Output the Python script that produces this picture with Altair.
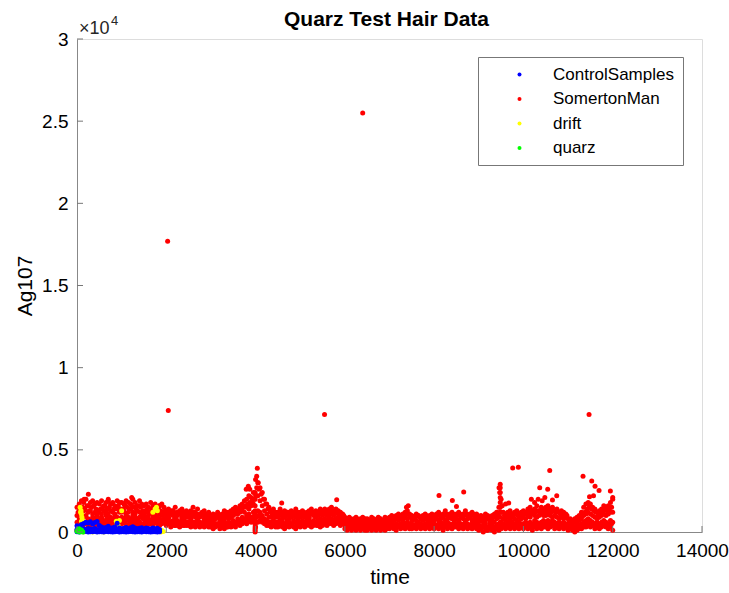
import altair as alt
import pandas as pd

# ---------------- data ----------------
series_names = ["ControlSamples", "SomertonMan", "drift", "quarz"]
series_colors = ["#0000ff", "#ff0000", "#ffff00", "#00ff00"]

# SomertonMan: sampling grid every 50 time units, readings (in hundreds) per column
red_times = list(range(0, 12001, 50))
red_a = [
    1, 3, 4, 2, 5, 3, 4, 6, 3, 5,
    5, 4, 6, 5, 7, 4, 6, 5, 7, 6,
    5, 6, 4, 7, 5, 6, 5, 4, 6, 5,
    5, 4, 6, 5, 4, 6, 5, 4, 5, 6,
    4, 5, 3, 5, 4, 4, 3, 5, 4, 4,
    4, 3, 4, 3, 5, 3, 4, 3, 4, 3,
    3, 2, 3, 4, 2, 3, 2, 3, 4, 3,
    4, 3, 5, 4, 5, 6, 5, 7, 6, 8,
    3, 6, 7, 6, 5, 4, 4, 3, 4, 3,
    3, 4, 3, 2, 4, 3, 4, 3, 2, 4,
    3, 4, 3, 5, 4, 3, 4, 5, 4, 3,
    4, 5, 4, 6, 5, 4, 5, 6, 4, 5,
    2, 1, 2, 1, 2, 1, 2, 1, 2, 1,
    1, 2, 1, 2, 1, 2, 1, 2, 1, 2,
    2, 3, 2, 1, 3, 2, 3, 2, 3, 2,
    2, 3, 2, 3, 2, 3, 2, 3, 2, 3,
    2, 3, 2, 3, 1, 3, 2, 3, 2, 3,
    3, 2, 3, 2, 3, 2, 3, 2, 3, 2,
    1, 2, 0, 2, 1, 2, 1, 0, 2, 1,
    2, 3, 2, 3, 2, 3, 2, 3, 2, 3,
    2, 3, 2, 3, 1, 3, 2, 3, 2, 3,
    3, 2, 3, 4, 2, 3, 2, 3, 2, 3,
    1, 2, 1, 0, 1, 2, 2, 3, 3, 4,
    3, 4, 2, 3, 2, 3, 4, 3, 2, 3,
    1]
red_b = [
    6, 8, 7, 9, 6, 8, 7, 9, 8, 6,
    8, 9, 7, 10, 8, 9, 8, 10, 9, 8,
    9, 8, 10, 9, 8, 10, 9, 8, 9, 10,
    8, 9, 8, 7, 9, 8, 9, 8, 7, 8,
    7, 8, 6, 7, 8, 7, 6, 8, 7, 6,
    6, 7, 6, 5, 7, 6, 5, 6, 7, 6,
    5, 6, 5, 4, 6, 5, 6, 5, 6, 5,
    7, 6, 8, 7, 9, 8, 10, 11, 9, 12,
    12, 13, 12, 10, 8, 7, 6, 6, 7, 6,
    6, 7, 6, 5, 7, 6, 5, 7, 6, 5,
    6, 7, 6, 7, 8, 6, 7, 6, 7, 8,
    7, 8, 7, 9, 8, 7, 8, 9, 8, 7,
    4, 3, 4, 3, 4, 3, 4, 3, 4, 3,
    3, 4, 3, 4, 3, 4, 3, 4, 3, 4,
    4, 5, 4, 5, 4, 5, 6, 5, 6, 5,
    5, 4, 5, 4, 5, 4, 5, 4, 5, 4,
    5, 4, 5, 6, 4, 5, 6, 5, 4, 5,
    5, 6, 5, 4, 6, 5, 4, 5, 6, 5,
    4, 3, 4, 5, 3, 4, 5, 3, 4, 5,
    6, 5, 4, 6, 5, 6, 5, 4, 6, 5,
    5, 6, 5, 6, 5, 7, 6, 5, 6, 7,
    6, 7, 6, 7, 6, 5, 6, 5, 6, 5,
    3, 4, 3, 3, 4, 4, 5, 6, 7, 8,
    7, 6, 5, 6, 5, 6, 7, 6, 5, 7,
    6]
red_c = [
    10, 12, 11, 13, 10, 12, 13, 11, 12, 10,
    12, 11, 13, 12, 11, 13, 12, 11, 14, 12,
    12, 13, 11, 12, 14, 12, 11, 13, 12, 11,
    11, 12, 10, 12, 11, 10, 12, 11, 10, 11,
    10, 9, 11, 10, 9, 10, 11, 9, 10, 9,
    9, 8, 10, 9, 8, 9, 10, 8, 9, 8,
    8, 7, 8, 9, 7, 8, 7, 9, 8, 9,
    10, 11, 11, 12, 13, 12, 15, 14, 16, 17,
    22, 22, 19, 16, 13, 11, 9, 9, 10, 9,
    9, 10, 8, 9, 10, 8, 9, 10, 9, 8,
    9, 10, 9, 10, 9, 11, 10, 9, 10, 11,
    10, 11, 10, 12, 11, 10, 12, 11, 10, 9,
    6, 5, 6, 5, 6, 5, 6, 5, 6, 5,
    5, 6, 5, 6, 5, 6, 5, 6, 6, 5,
    7, 6, 7, 8, 7, 8, 7, 9, 8, 9,
    7, 8, 7, 6, 8, 7, 8, 7, 6, 7,
    7, 8, 7, 8, 9, 7, 8, 9, 8, 7,
    8, 7, 9, 8, 7, 8, 9, 7, 8, 7,
    6, 7, 6, 7, 8, 6, 7, 6, 8, 9,
    12, 8, 7, 9, 8, 9, 8, 7, 9, 8,
    9, 8, 10, 9, 11, 10, 9, 10, 11, 10,
    10, 11, 10, 9, 10, 9, 8, 9, 8, 9,
    5, 6, 5, 6, 6, 7, 8, 10, 11, 12,
    11, 10, 9, 8, 9, 10, 11, 10, 11, 12,
    12]
red_d = [
    15, 17, 19, 18, 20, 16, 18, 19, 17, 18,
    17, 19, 16, 18, 20, 17, 18, 16, 19, 18,
    18, 17, 19, 18, 17, 20, 18, 16, 19, 17,
    16, 17, 15, 18, 16, 17, 15, 16, 17, 15,
    13, 14, 12, 13, 15, 12, 13, 14, 12, 13,
    12, 13, 11, 12, 14, 11, 12, 13, 11, 12,
    10, 11, 10, 12, 10, 11, 11, 12, 12, 13,
    14, 15, 14, 16, 17, 19, 20, 22, 21, 24,
    32, 30, 27, 24, 20, 17, 15, 13, 14, 12,
    12, 14, 12, 13, 12, 11, 13, 12, 14, 12,
    12, 13, 11, 12, 13, 14, 12, 13, 12, 14,
    13, 14, 12, 14, 15, 13, 14, 13, 12, 11,
    9, 8, 9, 7, 8, 9, 7, 8, 9, 8,
    8, 7, 9, 8, 7, 9, 8, 7, 9, 8,
    9, 10, 9, 10, 11, 10, 11, 12, 13, 11,
    10, 9, 11, 10, 9, 10, 11, 9, 10, 11,
    10, 11, 12, 10, 11, 13, 10, 11, 12, 10,
    11, 12, 10, 11, 13, 10, 11, 12, 10, 11,
    9, 10, 9, 11, 10, 9, 10, 11, 12, 15,
    20, 12, 11, 12, 13, 11, 12, 13, 11, 12,
    13, 12, 14, 15, 13, 14, 16, 13, 15, 14,
    15, 16, 14, 15, 13, 14, 12, 13, 12, 11,
    8, 8, 7, 8, 9, 10, 12, 15, 17, 18,
    17, 15, 14, 12, 13, 14, 16, 15, 16, 18,
    20]
# second sampling grid (offset by 25) with two more readings per column
red_times2 = list(range(25, 12000, 50))
red_e = [
    4, 5, 3, 6, 5, 4, 7, 5, 6, 4,
    6, 7, 5, 8, 6, 7, 6, 8, 5, 7,
    7, 6, 8, 5, 7, 8, 6, 7, 5, 8,
    6, 7, 5, 7, 6, 8, 6, 5, 7, 6,
    5, 6, 5, 4, 6, 5, 6, 4, 5, 6,
    5, 4, 6, 5, 4, 5, 6, 4, 5, 5,
    4, 3, 5, 4, 3, 4, 5, 3, 4, 4,
    5, 6, 6, 5, 7, 7, 8, 9, 8, 10,
    9, 10, 9, 8, 6, 5, 5, 4, 5, 5,
    5, 4, 5, 4, 6, 4, 5, 6, 4, 5,
    5, 6, 4, 6, 5, 6, 5, 4, 6, 5,
    6, 7, 5, 7, 6, 7, 6, 7, 6, 5,
    3, 2, 3, 2, 3, 2, 3, 2, 3, 2,
    2, 3, 2, 3, 2, 3, 2, 3, 2, 3,
    3, 4, 3, 4, 4, 3, 4, 3, 4, 4,
    4, 3, 4, 3, 4, 3, 4, 3, 4, 3,
    3, 4, 4, 3, 5, 4, 3, 4, 5, 4,
    4, 3, 4, 5, 4, 3, 4, 5, 4, 3,
    2, 3, 3, 1, 2, 3, 2, 2, 3, 4,
    4, 3, 4, 5, 3, 4, 3, 5, 4, 4,
    4, 5, 3, 4, 4, 5, 4, 3, 4, 5,
    4, 5, 4, 5, 4, 3, 4, 4, 3, 4,
    2, 2, 2, 2, 3, 3, 4, 4, 5, 6,
    5, 4, 3, 4, 3, 4, 5, 4, 4, 5]
red_f = [
    12, 14, 15, 14, 16, 13, 15, 16, 14, 13,
    14, 15, 16, 14, 15, 17, 14, 15, 16, 14,
    14, 16, 15, 14, 16, 15, 14, 16, 15, 13,
    13, 14, 12, 14, 13, 12, 14, 13, 12, 13,
    12, 11, 13, 12, 11, 12, 13, 11, 12, 11,
    11, 10, 12, 11, 10, 11, 12, 10, 11, 10,
    9, 10, 9, 10, 9, 10, 9, 11, 10, 11,
    12, 13, 13, 14, 15, 16, 17, 18, 19, 20,
    27, 26, 23, 20, 17, 14, 12, 11, 12, 11,
    11, 12, 10, 11, 12, 10, 11, 12, 11, 10,
    11, 12, 10, 11, 12, 12, 11, 12, 11, 12,
    12, 13, 11, 13, 13, 12, 13, 12, 11, 10,
    7, 7, 8, 6, 7, 8, 6, 7, 8, 7,
    7, 6, 8, 7, 6, 8, 7, 6, 8, 7,
    8, 9, 8, 9, 10, 9, 10, 11, 11, 10,
    9, 8, 10, 9, 8, 9, 10, 8, 9, 10,
    9, 10, 10, 9, 10, 11, 9, 10, 11, 9,
    10, 11, 9, 10, 11, 9, 10, 11, 9, 10,
    8, 9, 8, 9, 9, 8, 9, 10, 10, 12,
    16, 10, 9, 10, 11, 10, 11, 10, 10, 11,
    11, 11, 12, 13, 12, 12, 13, 12, 13, 12,
    13, 14, 12, 13, 12, 12, 11, 11, 10, 10,
    7, 7, 6, 7, 8, 9, 10, 12, 14, 15,
    14, 13, 12, 10, 11, 12, 14, 13, 14, 15]
# vertical streaks
red_streak_4000 = [0, 100, 200, 300, 450, 600, 800, 1000, 1300, 1600, 2000, 2400]
red_streak_9480 = [300, 600, 900, 1200, 1500, 1800, 2100, 2400, 2700, 2900]
# isolated SomertonMan points (time, Ag107)
red_outliers = [
    (2030, 17700), (2045, 7400), (5545, 7150), (6400, 25500), (11470, 7150),
    (254, 2300), (1225, 2100), (160, 2000), (700, 1900), (1850, 1600),
    (2600, 1500), (3300, 1300), (3837, 2780), (3790, 2600), (3870, 2600),
    (4039, 3880), (4025, 3400), (4060, 3000), (4585, 1770), (5817, 1970),
    (7380, 1500), (7420, 1600), (8109, 2220), (8408, 1910), (8662, 2440),
    (8500, 1550), (9453, 2700), (9470, 2400), (9600, 1700), (9670, 1770),
    (9760, 3900), (9886, 3940), (10177, 2000), (10250, 1800), (10330, 2000),
    (10365, 2700), (10420, 1900), (10480, 2100), (10544, 2600), (10589, 3740),
    (10650, 1950), (10746, 2200), (11335, 3390), (11480, 2150), (11530, 3110),
    (11570, 2200), (11604, 2790), (11694, 2520), (11947, 2500), (12000, 2100),
]

# ControlSamples: sampling grid every 50 time units, three readings per column
blue_times = list(range(0, 1851, 50))
blue_a = [20, 0, 30, 10, 40, 0, 20, 10, 30, 0, 20, 10, 0, 30, 10, 20, 0, 10, 30,
          0, 20, 10, 0, 20, 30, 10, 0, 20, 10, 0, 30, 10, 20, 0, 10, 20, 0, 10]
blue_b = [150, 120, 180, 200, 160, 210, 190, 170, 220, 140, 120, 100, 130, 90, 110,
          120, 100, 80, 130, 110, 90, 100, 120, 80, 110, 90, 100, 70, 120, 90, 80,
          110, 90, 70, 100, 80, 90, 60]
blue_c = [380, 300, 450, 520, 600, 550, 620, 480, 580, 640, 400, 300, 250, 280, 350,
          220, 260, 300, 530, 250, 200, 230, 280, 210, 260, 320, 240, 200, 230, 260,
          200, 240, 220, 180, 250, 200, 230, 150]

drift_points = [
    (70, 1500), (80, 1200), (90, 1300), (100, 1100), (110, 900), (120, 750), (100, 650),
    (150, 0), (250, 30), (350, 0), (450, 20), (600, 0), (700, 30),
    (880, 650), (900, 500), (920, 400), (950, 700), (1000, 1300),
    (1700, 1200), (1750, 1400), (1780, 1500), (1800, 1300),
    (1850, 50), (1880, 0), (1900, 100), (1930, 30),
]
quarz_points = [(0, 50), (20, 150), (30, 100), (50, 200), (60, 0), (90, 80),
                (100, 120), (120, 30), (130, 0)]

x_ticks = [0, 2000, 4000, 6000, 8000, 10000, 12000, 14000]
y_ticks = [0, 5000, 10000, 15000, 20000, 25000, 30000]

# ---------------- build table ----------------
rows = []
for lst in (red_a, red_b, red_c, red_d):
    assert len(lst) == len(red_times)
    for t, v in zip(red_times, lst):
        rows.append({"time": t, "Ag107": v * 100, "series": "SomertonMan"})
for lst in (red_e, red_f):
    assert len(lst) == len(red_times2)
    for t, v in zip(red_times2, lst):
        rows.append({"time": t, "Ag107": v * 100, "series": "SomertonMan"})
for v in red_streak_4000:
    rows.append({"time": 3990, "Ag107": v, "series": "SomertonMan"})
for v in red_streak_9480:
    rows.append({"time": 9480, "Ag107": v, "series": "SomertonMan"})
for t, v in red_outliers:
    rows.append({"time": t, "Ag107": v, "series": "SomertonMan"})
for t, v in drift_points:
    rows.append({"time": t, "Ag107": v, "series": "drift"})
for lst in (blue_a, blue_b, blue_c):
    assert len(lst) == len(blue_times)
    for t, v in zip(blue_times, lst):
        rows.append({"time": t, "Ag107": v, "series": "ControlSamples"})
for t, v in quarz_points:
    rows.append({"time": t, "Ag107": v, "series": "quarz"})
df = pd.DataFrame(rows)
df["order"] = range(len(df))

FONT = "Liberation Sans"
W, H = 625, 493
AX = "#777777"
TXT = "#262626"

xscale = alt.Scale(domain=[0, 14000], nice=False, zero=False)
yscale = alt.Scale(domain=[0, 30000], nice=False, zero=False)

points = alt.Chart(df).mark_circle(size=25, opacity=1).encode(
    x=alt.X("time:Q", scale=xscale,
            axis=alt.Axis(values=x_ticks, ticks=False, grid=False, title="time",
                          format="d", labelPadding=9, titlePadding=6,
                          labelFontSize=19, titleFontSize=21, titleFontWeight="normal",
                          labelFlush=False, labelOverlap=False)),
    y=alt.Y("Ag107:Q", scale=yscale,
            axis=alt.Axis(values=y_ticks, ticks=False, grid=False, title="Ag107",
                          labelExpr="format(datum.value / 10000, '~g')",
                          labelPadding=9, titlePadding=6,
                          labelFontSize=19, titleFontSize=21, titleFontWeight="normal",
                          labelFlush=False, labelOverlap=False)),
    color=alt.Color("series:N",
                    scale=alt.Scale(domain=series_names, range=series_colors),
                    legend=alt.Legend(orient="none", legendX=401, legendY=18, title=None,
                                      strokeColor=AX, fillColor="white",
                                      padding=9, symbolOffset=24, labelOffset=25,
                                      symbolSize=16, symbolType="circle",
                                      symbolStrokeWidth=0,
                                      labelFontSize=17, labelFont=FONT,
                                      labelColor="#000000", rowPadding=6.5)),
    order=alt.Order("order:Q"),
)

xt = alt.Chart(pd.DataFrame({"t": x_ticks})).mark_rule(color=AX, strokeWidth=1).encode(
    x=alt.X("t:Q", scale=xscale), y=alt.value(H), y2=alt.value(H - 6))
yt = alt.Chart(pd.DataFrame({"v": y_ticks})).mark_rule(color=AX, strokeWidth=1).encode(
    y=alt.Y("v:Q", scale=yscale), x=alt.value(0), x2=alt.value(6))

exp_base = alt.Chart(pd.DataFrame({"s": ["×10"]})).mark_text(
    font=FONT, fontSize=18, color=TXT, align="left", baseline="middle").encode(
    x=alt.value(2), y=alt.value(-10), text="s:N")
exp_pow = alt.Chart(pd.DataFrame({"s": ["4"]})).mark_text(
    font=FONT, fontSize=13, color=TXT, align="left", baseline="middle").encode(
    x=alt.value(34), y=alt.value(-18), text="s:N")
title = alt.Chart(pd.DataFrame({"s": ["Quarz Test Hair Data"]})).mark_text(
    font=FONT, fontSize=21, fontWeight="bold", color="#000000",
    align="center", baseline="middle").encode(
    x=alt.value(W / 2 - 3), y=alt.value(-19), text="s:N")

chart = alt.layer(points, xt, yt, exp_base, exp_pow, title).properties(
    width=W, height=H,
    autosize=alt.AutoSizeParams(type="none"),
    padding={"left": 77, "top": 39, "right": 27, "bottom": 61},
).configure_view(stroke=None).configure_axis(
    domainColor=AX, labelFont=FONT, titleFont=FONT,
    labelColor=TXT, titleColor=TXT,
).configure(background="white")

chart.save("out.html", embed_options={"renderer": "svg", "actions": False})
